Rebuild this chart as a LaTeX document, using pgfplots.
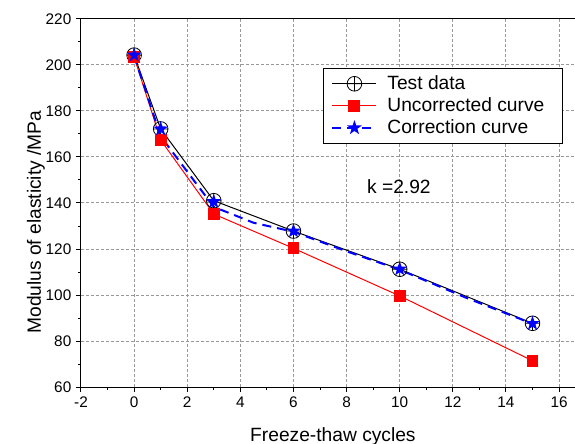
\documentclass[border=0pt]{standalone}
\usepackage{fontspec}
\setmainfont{Liberation Sans}
\usepackage{pgfplots}
\pgfplotsset{compat=1.18}
\pgfdeclareplotmark{fstar}{%
  \pgfpathmoveto{\pgfpointpolar{90}{\pgfplotmarksize}}%
  \pgfpathlineto{\pgfpointpolar{126}{0.40*\pgfplotmarksize}}%
  \pgfpathlineto{\pgfpointpolar{162}{\pgfplotmarksize}}%
  \pgfpathlineto{\pgfpointpolar{198}{0.40*\pgfplotmarksize}}%
  \pgfpathlineto{\pgfpointpolar{234}{\pgfplotmarksize}}%
  \pgfpathlineto{\pgfpointpolar{270}{0.40*\pgfplotmarksize}}%
  \pgfpathlineto{\pgfpointpolar{306}{\pgfplotmarksize}}%
  \pgfpathlineto{\pgfpointpolar{342}{0.40*\pgfplotmarksize}}%
  \pgfpathlineto{\pgfpointpolar{18}{\pgfplotmarksize}}%
  \pgfpathlineto{\pgfpointpolar{54}{0.40*\pgfplotmarksize}}%
  \pgfpathclose\pgfusepathqfill}
\begin{document}
\begin{tikzpicture}
\begin{axis}[
  at={(0,0)}, anchor=south west,
  scale only axis, width=370.5pt, height=276pt,
  xmin=-2, xmax=16.6, ymin=60, ymax=220,
  xtick={-2,0,...,16}, ytick={60,80,...,220},
  minor x tick num=1, minor y tick num=1,
  axis x line=box, axis y line=left,
  y axis line style={-},
  xtick pos=left,
  tick align=outside,
  major tick length=3.75pt, minor tick length=2.25pt,
  every tick/.style={black, line width=0.75pt},
  axis line style={black, line width=0.75pt},
  grid=major,
  grid style={dash pattern=on 2.25pt off 1.5pt, black!40, line width=0.75pt},
  /pgf/number format/assume math mode=true,
  ticklabel style={font=\fontsize{11.5}{13}\selectfont},
  xlabel={Freeze-thaw cycles},
  ylabel={Modulus of elasticity /MPa},
  label style={font=\fontsize{14.4}{17}\selectfont},
  xlabel style={at={(axis description cs:0.51,-0.149)}, anchor=base},
  ylabel style={at={(axis description cs:-0.081,0.448)}, anchor=base},
  legend cell align=left,
  legend style={at={(axis cs:7.11,198.7)}, anchor=north west,
    draw=black, line width=0.75pt, fill=white,
    font=\fontsize{14.4}{17.6}\selectfont,
    inner xsep=6pt, inner ysep=3.5pt, row sep=0.6pt,
    nodes={inner xsep=7.5pt}},
  legend image code/.code={%
    \draw[mark repeat=2, mark phase=2, #1] plot coordinates {(0pt,0pt) (16.5pt,0pt) (33pt,0pt)};},
]
\addplot[black, line width=0.75pt, mark=oplus, mark size=5.5pt,
  mark options={solid, fill=none, draw=black, line width=0.6pt}]
  coordinates {(0,204.3) (1,172.2) (3,141) (6,127.8) (10,111.2) (15,87.7)};
\addlegendentry{Test data}
\addplot[red, line width=0.75pt, mark=square*, mark size=4.1pt,
  mark options={solid, fill=red, draw=red}]
  coordinates {(0,203.5) (1,167.4) (3,135.2) (6,120.3) (10,99.6) (15,71.4)};
\addlegendentry{Uncorrected curve}
\addplot[blue, line width=1.5pt, dash pattern=on 6.75pt off 4.5pt, mark=none,
  legend image post style={mark=fstar, mark size=5.8pt, mark options={solid, fill=blue, draw=blue}}]
  coordinates {(0,204) (1,169) (3,138.3) (4.5,131.4) (6,127.5) (8,119) (10,111) (12.5,98.8) (15,87.5)};
\addlegendentry{Correction curve}
\addplot[blue, only marks, mark=fstar, mark size=5.8pt, forget plot,
  mark options={solid, fill=blue, draw=blue}]
  coordinates {(0,204.3) (1,172.2) (3,140.6) (6,127.8) (10,111.3) (15,87.6)};
\node[font=\fontsize{14.4}{17}\selectfont] at (axis cs:9.97,147) {k =2.92};
\end{axis}
\pgfresetboundingbox
\path[use as bounding box] (-60.75pt,-42pt) rectangle (370.5pt,290.25pt);
\end{tikzpicture}
\end{document}
